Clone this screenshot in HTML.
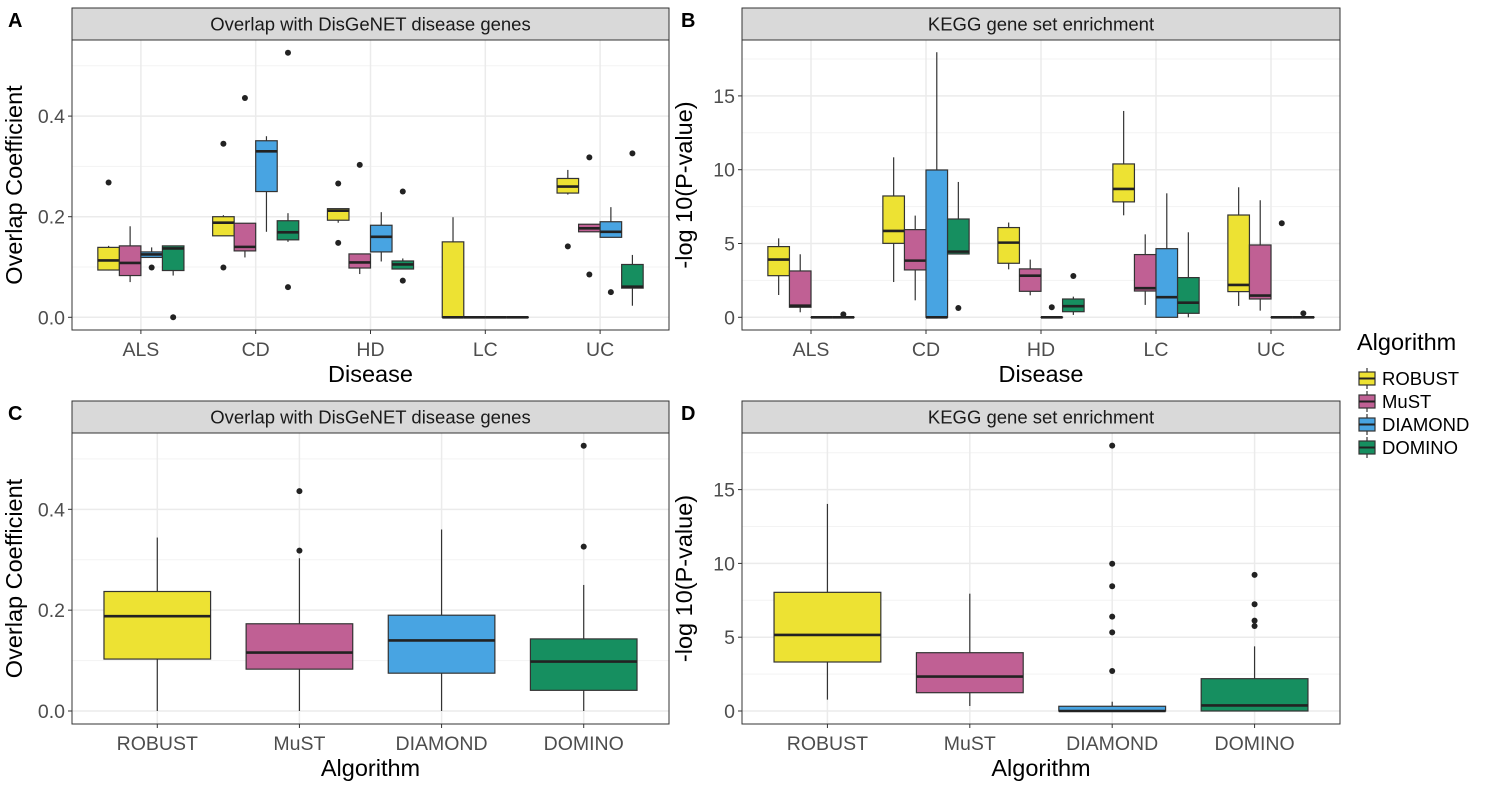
<!DOCTYPE html>
<html><head><meta charset="utf-8"><style>
body{margin:0;background:#fff}
svg{display:block;font-family:"Liberation Sans",Arial,sans-serif}
</style></head><body>
<svg id="fig" width="1501" height="787" viewBox="0 0 1501 787" xmlns="http://www.w3.org/2000/svg"></svg>
<script>
const diseases=["ALS","CD","HD","LC","UC"];
const algorithms=["ROBUST","MuST","DIAMOND","DOMINO"];
const colors=["#EDE233","#C06094","#48A4E2","#168F60"];
// Panel A: [disease][algorithm] = [lowWhisker,q1,median,q3,highWhisker]
const aStats=[
 [[0.093,0.094,0.113,0.139,0.142],[0.07,0.083,0.108,0.142,0.181],[0.119,0.119,0.125,0.130,0.139],[0.083,0.093,0.137,0.142,0.142]],
 [[0.162,0.162,0.188,0.200,0.203],[0.119,0.132,0.140,0.187,0.187],[0.17,0.25,0.33,0.351,0.36],[0.15,0.154,0.169,0.192,0.207]],
 [[0.188,0.193,0.212,0.216,0.216],[0.086,0.098,0.109,0.126,0.126],[0.111,0.13,0.16,0.183,0.209],[0.096,0.096,0.105,0.112,0.117]],
 [[0,0,0,0.15,0.199],[0,0,0,0,0],[0,0,0,0,0],[0,0,0,0,0]],
 [[0.244,0.247,0.26,0.276,0.293],[0.17,0.17,0.177,0.185,0.185],[0.159,0.159,0.17,0.19,0.219],[0.023,0.058,0.061,0.105,0.124]]];
const aOutliers=[
 [[0.268],[],[0.099],[0]],
 [[0.345,0.099],[0.436],[],[0.526,0.06]],
 [[0.266,0.148],[0.303],[],[0.25,0.073]],
 [[],[],[],[]],
 [[0.141],[0.318,0.085],[0.05],[0.326]]];
const bStats=[
 [[1.51,2.82,3.91,4.79,5.35],[0.34,0.68,0.79,3.14,4.27],[0,0,0,0,0],[0,0,0,0,0]],
 [[2.39,5.01,5.85,8.22,10.84],[1.15,3.21,3.84,5.94,6.89],[0,0,0,9.98,17.96],[4.29,4.29,4.45,6.66,9.17]],
 [[3.25,3.66,5.06,6.08,6.42],[1.49,1.76,2.82,3.28,3.91],[0,0,0,0,0],[0.16,0.38,0.75,1.24,1.4]],
 [[6.91,7.82,8.7,10.39,13.98],[0.84,1.78,1.97,4.25,5.62],[0,0,1.36,4.65,8.4],[0,0.27,0.99,2.69,5.76]],
 [[0.77,1.74,2.19,6.93,8.81],[0.45,1.24,1.47,4.9,7.93],[0,0,0,0,0],[0,0,0,0,0]]];
const bOutliers=[
 [[],[],[],[0.2]],
 [[],[],[],[0.63]],
 [[],[],[0.68],[2.8]],
 [[],[],[],[]],
 [[],[],[6.37],[0.27]]];
const cStats=[[0,0.103,0.188,0.237,0.344],[0,0.083,0.116,0.173,0.303],[0,0.075,0.14,0.19,0.36],[0,0.041,0.098,0.143,0.25]];
const cOutliers=[[],[0.436,0.318],[],[0.526,0.326]];
const dStats=[[0.77,3.32,5.15,8.04,14.03],[0.34,1.24,2.33,3.95,7.95],[0,0,0,0.32,0.63],[0,0,0.38,2.19,4.38]];
const dOutliers=[[],[],[17.98,9.98,8.45,6.39,5.33,2.71],[9.22,7.23,6.12,5.76]];
const overlapTicks=[0,0.2,0.4];
const overlapMinor=[0.1,0.3,0.5];
const keggTicks=[0,5,10,15];
const keggMinor=[2.5,7.5,12.5,17.5];

const NS="http://www.w3.org/2000/svg";
const svg=document.getElementById('fig');
function mk(tag,attrs,parent,text){const e=document.createElementNS(NS,tag);for(const k in attrs)e.setAttribute(k,attrs[k]);if(text!==undefined)e.textContent=text;(parent||svg).appendChild(e);return e;}

function panel(p){
  const g=mk('g',{});
  
  
  const y=v=>p.y0-v*p.ppu;
  const n=p.cats.length, unit=(p.x1-p.x0)/(n+0.2);
  const xc=i=>p.x0+(0.6+i)*unit;
  const st=mk('rect',{x:p.x0,y:p.sy,width:p.x1-p.x0,height:p.y1-p.sy,fill:'#D9D9D9',stroke:'#333',"stroke-width":1},g);
  
  
  const stt=mk('text',{x:(p.x0+p.x1)/2,y:(p.sy+p.y1)/2+6.5,"text-anchor":"middle","font-size":18.5,fill:'#1a1a1a'},g,p.title);
  
  
  mk('rect',{x:p.x0,y:p.y1,width:p.x1-p.x0,height:p.y0b-p.y1,fill:'#fff'},g);
  p.minor.forEach(v=>mk('line',{x1:p.x0,x2:p.x1,y1:y(v),y2:y(v),stroke:'#F3F3F3',"stroke-width":1},g));
  p.ticks.forEach(v=>mk('line',{x1:p.x0,x2:p.x1,y1:y(v),y2:y(v),stroke:'#EBEBEB',"stroke-width":1.5},g));
  p.cats.forEach((c,i)=>mk('line',{x1:xc(i),x2:xc(i),y1:p.y1,y2:p.y0b,stroke:'#EBEBEB',"stroke-width":1.5},g));
  const nd=p.dodge?algorithms.length:1;
  const bw=0.75*unit/nd;
  p.cats.forEach((c,i)=>{
    for(let a=0;a<nd;a++){
      const s=p.dodge?p.stats[i][a]:p.stats[i];
      const outs=p.dodge?p.outs[i][a]:p.outs[i];
      const col=p.dodge?colors[a]:colors[i];
      const cx=p.dodge?xc(i)+(a-(nd-1)/2)*bw:xc(i);
      const bg=mk('g',{},g);
      
      
      mk('line',{x1:cx,x2:cx,y1:y(s[0]),y2:y(s[1]),stroke:'#333',"stroke-width":1.2},bg);
      mk('line',{x1:cx,x2:cx,y1:y(s[3]),y2:y(s[4]),stroke:'#333',"stroke-width":1.2},bg);
      mk('rect',{x:cx-bw/2,y:y(s[3]),width:bw,height:Math.max(0.01,y(s[1])-y(s[3])),fill:col,stroke:'#333',"stroke-width":1.2},bg);
      mk('line',{x1:cx-bw/2,x2:cx+bw/2,y1:y(s[2]),y2:y(s[2]),stroke:'#222',"stroke-width":2.6},bg);
      outs.forEach(v=>mk('circle',{cx:cx,cy:y(v),r:3,fill:'#222'},bg));
    }
  });
  mk('rect',{x:p.x0,y:p.y1,width:p.x1-p.x0,height:p.y0b-p.y1,fill:'none',stroke:'#333',"stroke-width":1},g);
  p.ticks.forEach(v=>{
    mk('line',{x1:p.x0-4,x2:p.x0,y1:y(v),y2:y(v),stroke:'#333',"stroke-width":1},g);
    const t=mk('text',{x:p.x0-7,y:y(v)+7,"text-anchor":"end","font-size":19.5,fill:'#4d4d4d'},g,p.fmt(v));
    
    
  });
  p.cats.forEach((c,i)=>{
    mk('line',{x1:xc(i),x2:xc(i),y1:p.y0b,y2:p.y0b+4,stroke:'#333',"stroke-width":1},g);
    const t=mk('text',{x:xc(i),y:p.y0b+26,"text-anchor":"middle","font-size":19.5,fill:'#4d4d4d'},g,c);
    
    
  });
  const xt=mk('text',{x:(p.x0+p.x1)/2,y:p.y0b+52,"text-anchor":"middle","font-size":23.5,fill:'#000'},g,p.xtitle);
  
  
  const ym=(p.y1+p.y0b)/2, yx=p.x0-50;
  const yt=mk('text',{x:yx,y:ym,"text-anchor":"middle","font-size":23.5,fill:'#000',transform:`rotate(-90 ${yx} ${ym})`},g,p.ytitle);
  
  
  const lt=mk('text',{x:p.lx,y:p.sy+19,"font-size":20,"font-weight":"bold",fill:'#000'},g,p.letter);
  
  
}
const f1=v=>v.toFixed(1), f0=v=>String(v);
panel({name:'panel-a',letter:'A',lx:8,title:'Overlap with DisGeNET disease genes',x0:72,x1:669,sy:8,y1:40,y0b:330,y0:317.3,ppu:503,cats:diseases,dodge:true,stats:aStats,outs:aOutliers,ticks:overlapTicks,minor:overlapMinor,fmt:f1,xtitle:'Disease',ytitle:'Overlap Coefficient'});
panel({name:'panel-b',letter:'B',lx:681,title:'KEGG gene set enrichment',x0:742,x1:1340,sy:8,y1:40,y0b:330,y0:317.3,ppu:14.76,cats:diseases,dodge:true,stats:bStats,outs:bOutliers,ticks:keggTicks,minor:keggMinor,fmt:f0,xtitle:'Disease',ytitle:'-log 10(P-value)'});
panel({name:'panel-c',letter:'C',lx:8,title:'Overlap with DisGeNET disease genes',x0:72,x1:669,sy:401,y1:433,y0b:724,y0:711,ppu:504.2,cats:algorithms,dodge:false,stats:cStats,outs:cOutliers,ticks:overlapTicks,minor:overlapMinor,fmt:f1,xtitle:'Algorithm',ytitle:'Overlap Coefficient'});
panel({name:'panel-d',letter:'D',lx:681,title:'KEGG gene set enrichment',x0:742,x1:1340,sy:401,y1:433,y0b:724,y0:711,ppu:14.76,cats:algorithms,dodge:false,stats:dStats,outs:dOutliers,ticks:keggTicks,minor:keggMinor,fmt:f0,xtitle:'Algorithm',ytitle:'-log 10(P-value)'});
const lg=mk('g',{});


mk('text',{x:1357,y:350,"font-size":23.5,fill:'#000'},lg,'Algorithm');
algorithms.forEach((a,i)=>{
  const yy=370+i*23;
  const e=mk('g',{},lg);
  
  
  mk('line',{x1:1367,x2:1367,y1:yy-2,y2:yy+19,stroke:'#333',"stroke-width":1.2},e);
  mk('rect',{x:1359,y:yy+2,width:16,height:13,fill:colors[i],stroke:'#333',"stroke-width":1.2},e);
  mk('line',{x1:1359,x2:1375,y1:yy+8.5,y2:yy+8.5,stroke:'#222',"stroke-width":2},e);
  mk('text',{x:1382,y:yy+15,"font-size":18.5,fill:'#000'},e,a);
});
</script>
</body></html>
